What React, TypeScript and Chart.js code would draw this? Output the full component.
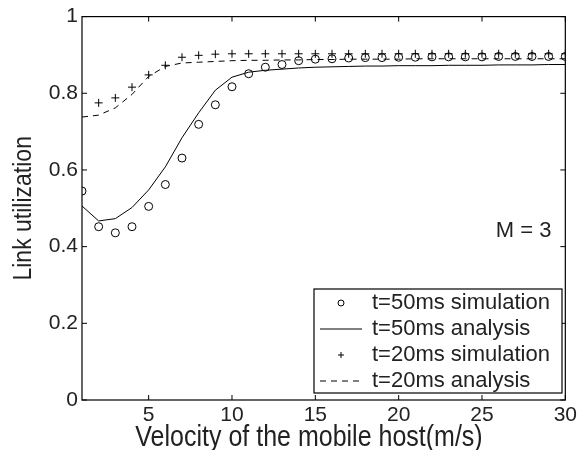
import React, { useEffect, useRef } from "react";
import { Chart, registerables } from "chart.js";

Chart.register(...registerables);

const velocity = [1, 2, 3, 4, 5, 6, 7, 8, 9, 10, 11, 12, 13, 14, 15, 16, 17, 18, 19, 20, 21, 22, 23, 24, 25, 26, 27, 28, 29, 30];
const sim50 = [0.545, 0.452, 0.436, 0.452, 0.505, 0.562, 0.631, 0.719, 0.770, 0.817, 0.851, 0.868, 0.875, 0.885, 0.889, 0.890, 0.892, 0.893, 0.893, 0.894, 0.894, 0.895, 0.895, 0.895, 0.895, 0.896, 0.896, 0.896, 0.896, 0.896];
const ana50 = [0.506, 0.467, 0.473, 0.502, 0.548, 0.608, 0.684, 0.749, 0.808, 0.842, 0.855, 0.860, 0.863, 0.866, 0.868, 0.869, 0.870, 0.871, 0.871, 0.872, 0.872, 0.872, 0.873, 0.873, 0.873, 0.874, 0.874, 0.874, 0.875, 0.875];
const sim20 = [null, 0.775, 0.788, 0.816, 0.848, 0.873, 0.894, 0.899, 0.902, 0.903, 0.903, 0.903, 0.903, 0.903, 0.903, 0.903, 0.903, 0.903, 0.903, 0.903, 0.903, 0.903, 0.903, 0.903, 0.903, 0.903, 0.903, 0.903, 0.903, 0.903];
const ana20 = [0.738, 0.743, 0.762, 0.797, 0.844, 0.870, 0.879, 0.881, 0.883, 0.885, 0.886, 0.886, 0.887, 0.887, 0.888, 0.888, 0.889, 0.889, 0.889, 0.889, 0.890, 0.890, 0.890, 0.890, 0.890, 0.890, 0.890, 0.890, 0.890, 0.890];
const xTicks = [5, 10, 15, 20, 25, 30];
const yTicks = [0, 0.2, 0.4, 0.6, 0.8, 1];
const legendLabels = ["t=50ms simulation", "t=50ms analysis", "t=20ms simulation", "t=20ms analysis"];
const annotationText = "M = 3";
const xTitle = "Velocity of the mobile host(m/s)";
const yTitle = "Link utilization";

const FONT = "'Liberation Sans', Arial, sans-serif";

const toPts = (arr: (number | null)[]) => velocity.map((v, i) => ({ x: v, y: arr[i] }));

const framePlugin = {
  id: "frame",
  afterDraw(chart: any) {
    const { ctx, chartArea: a, scales } = chart;
    const xs = scales.x;
    const ys = scales.y;
    ctx.save();
    ctx.strokeStyle = "#000";
    ctx.lineWidth = 1.2;
    ctx.strokeRect(a.left, a.top, a.right - a.left, a.bottom - a.top);
    const tl = 5;
    ctx.beginPath();
    xTicks.forEach((t) => {
      const px = xs.getPixelForValue(t);
      ctx.moveTo(px, a.bottom);
      ctx.lineTo(px, a.bottom - tl);
      ctx.moveTo(px, a.top);
      ctx.lineTo(px, a.top + tl);
    });
    yTicks.forEach((t) => {
      const py = ys.getPixelForValue(t);
      ctx.moveTo(a.left, py);
      ctx.lineTo(a.left + tl, py);
      ctx.moveTo(a.right, py);
      ctx.lineTo(a.right - tl, py);
    });
    ctx.lineWidth = 1;
    ctx.stroke();

    // axis titles (slightly tall glyphs, as in the reference)
    ctx.fillStyle = "#222";
    ctx.font = `25px ${FONT}`;
    ctx.textAlign = "center";
    ctx.textBaseline = "alphabetic";
    ctx.save();
    ctx.translate(309, 446);
    ctx.scale(1, 1.15);
    ctx.fillText(xTitle, 0, 0);
    ctx.restore();

    ctx.save();
    ctx.translate(31, (a.top + a.bottom) / 2);
    ctx.rotate(-Math.PI / 2);
    ctx.scale(1, 1.15);
    ctx.font = `23px ${FONT}`;
    ctx.fillText(yTitle, 0, 0);
    ctx.restore();

    // annotation
    ctx.fillStyle = "#222";
    ctx.font = `22px ${FONT}`;
    ctx.textAlign = "center";
    ctx.textBaseline = "middle";
    ctx.fillText(annotationText, xs.getPixelForValue(27.5), ys.getPixelForValue(0.44));

    // legend
    const lx0 = 314, ly0 = 289, lx1 = 562, ly1 = 393;
    ctx.fillStyle = "#fff";
    ctx.fillRect(lx0, ly0, lx1 - lx0, ly1 - ly0);
    ctx.strokeStyle = "#000";
    ctx.lineWidth = 1.2;
    ctx.strokeRect(lx0, ly0, lx1 - lx0, ly1 - ly0);
    const rowH = (ly1 - ly0) / 4;
    ctx.font = `22px ${FONT}`;
    ctx.textAlign = "left";
    ctx.textBaseline = "middle";
    legendLabels.forEach((label, i) => {
      const cy = ly0 + rowH * (i + 0.5) + 1;
      const sx = lx0 + 6, ex = lx0 + 48, mx = (sx + ex) / 2;
      ctx.strokeStyle = "#000";
      ctx.lineWidth = 1;
      ctx.beginPath();
      if (i === 0) {
        ctx.arc(mx, cy, 3, 0, Math.PI * 2);
        ctx.stroke();
      } else if (i === 1) {
        ctx.moveTo(sx, cy);
        ctx.lineTo(ex, cy);
        ctx.stroke();
      } else if (i === 2) {
        ctx.moveTo(mx - 3, cy);
        ctx.lineTo(mx + 3, cy);
        ctx.moveTo(mx, cy - 3);
        ctx.lineTo(mx, cy + 3);
        ctx.stroke();
      } else {
        ctx.setLineDash([6, 5]);
        ctx.moveTo(sx, cy);
        ctx.lineTo(ex, cy);
        ctx.stroke();
        ctx.setLineDash([]);
      }
      ctx.fillStyle = "#222";
      ctx.fillText(label, lx0 + 58, cy);
    });
    ctx.restore();
  },
};

export default function App() {
  const ref = useRef<HTMLCanvasElement | null>(null);
  useEffect(() => {
    if (!ref.current) return;
    const chart = new Chart(ref.current, {
      type: "line",
      data: {
        datasets: [
          {
            label: legendLabels[0],
            data: toPts(sim50),
            showLine: false,
            pointStyle: "circle",
            pointRadius: 4,
            pointBorderWidth: 1,
            pointBorderColor: "#000",
            pointBackgroundColor: "transparent",
            borderColor: "#000",
          },
          {
            label: legendLabels[1],
            data: toPts(ana50),
            borderColor: "#000",
            borderWidth: 1,
            pointRadius: 0,
            tension: 0,
          },
          {
            label: legendLabels[2],
            data: toPts(sim20),
            showLine: false,
            pointStyle: "cross",
            pointRadius: 4,
            pointBorderWidth: 1,
            pointBorderColor: "#000",
            borderColor: "#000",
          },
          {
            label: legendLabels[3],
            data: toPts(ana20),
            borderColor: "#000",
            borderWidth: 1,
            borderDash: [6, 5],
            pointRadius: 0,
            tension: 0,
          },
        ],
      },
      options: {
        animation: false,
        responsive: false,
        maintainAspectRatio: false,
        layout: { padding: { top: 15, right: 12, left: 0, bottom: 0 } },
        plugins: { legend: { display: false }, tooltip: { enabled: false } },
        scales: {
          x: {
            type: "linear",
            min: 1,
            max: 30,
            afterBuildTicks: (s: any) => {
              s.ticks = xTicks.map((v) => ({ value: v }));
            },
            afterFit: (s: any) => {
              s.height = 50;
            },
            grid: { display: false, drawTicks: false },
            border: { display: false },
            ticks: {
              color: "#222",
              font: { family: FONT, size: 21 },
              padding: 3,
              maxRotation: 0,
              autoSkip: false,
            },
          },
          y: {
            type: "linear",
            min: 0,
            max: 1,
            afterBuildTicks: (s: any) => {
              s.ticks = yTicks.map((v) => ({ value: v }));
            },
            afterFit: (s: any) => {
              s.width = 82;
            },
            grid: { display: false, drawTicks: false },
            border: { display: false },
            ticks: {
              color: "#222",
              font: { family: FONT, size: 21 },
              padding: 4,
              callback: (v: any) => String(Number(v)),
            },
          },
        },
      },
      plugins: [framePlugin],
    });
    return () => chart.destroy();
  }, []);
  return (
    <div style={{ position: "fixed", left: 0, top: 0, width: 580, height: 450, background: "#fff" }}>
      <canvas ref={ref} width={580} height={450} style={{ width: 580, height: 450, display: "block" }} />
    </div>
  );
}
